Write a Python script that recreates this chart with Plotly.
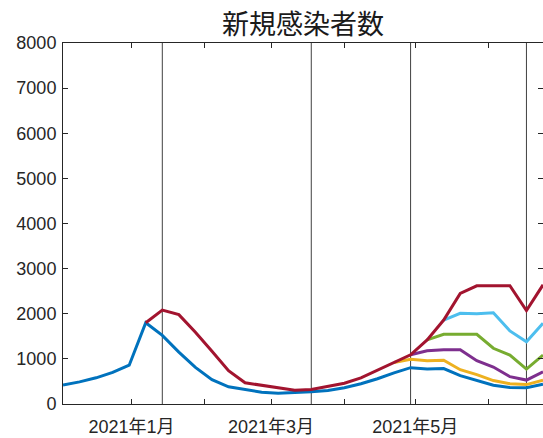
import plotly.graph_objects as go

# weekly dates (Thursdays)
dates = ["2020-12-03", "2020-12-10", "2020-12-17", "2020-12-24", "2020-12-31",
         "2021-01-07", "2021-01-14", "2021-01-21", "2021-01-28",
         "2021-02-04", "2021-02-11", "2021-02-18", "2021-02-25",
         "2021-03-04", "2021-03-11", "2021-03-18", "2021-03-25",
         "2021-04-01", "2021-04-08", "2021-04-15", "2021-04-22", "2021-04-29",
         "2021-05-06", "2021-05-13", "2021-05-20", "2021-05-27",
         "2021-06-03", "2021-06-10", "2021-06-17", "2021-06-24"]

actual = [420, 490, 580, 700, 860,
          1800, 1520, 1150, 810,
          540, 380, 320, 260,
          240, 250, 270, 300,
          360, 450, 560, 690, 805,
          775, 785, 630, 530,
          415, 365, 360, 440]

# scenario series (start index into dates, values)
red_start = 5
red_vals = [1800, 2080, 1980, 1590,
            1170, 740, 470, 410,
            360, 305, 320, 390,
            460, 580, 750, 920, 1090,
            1420, 1860, 2450, 2620,
            2620, 2620, 2070, 2640]

yellow_start = 20
yellow_vals = [920, 990, 960, 970, 760, 650, 520, 450, 430, 530]

purple_start = 21
purple_vals = [1090, 1180, 1200, 1200, 960, 820, 605, 530, 715]

green_start = 22
green_vals = [1420, 1545, 1545, 1545, 1235, 1085, 775, 1085]

lightblue_start = 23
lightblue_vals = [1860, 2010, 2000, 2020, 1620, 1380, 1790]

event_dates = ["2021-01-14", "2021-03-18", "2021-04-29", "2021-06-17"]

tick_dates = ["2021-01-01", "2021-02-01", "2021-03-01", "2021-04-01", "2021-05-01", "2021-06-01"]
tick_text = ["2021年1月", "", "2021年3月", "", "2021年5月", ""]

y_ticks = [0, 1000, 2000, 3000, 4000, 5000, 6000, 7000, 8000]

series = [
    (0, actual, "#0072BD"),
    (yellow_start, yellow_vals, "#EDB120"),
    (purple_start, purple_vals, "#7E2F8E"),
    (green_start, green_vals, "#77AC30"),
    (lightblue_start, lightblue_vals, "#4DBEEE"),
    (red_start, red_vals, "#A2142F"),
]

fig = go.Figure()
for start, vals, color in series:
    fig.add_trace(go.Scatter(x=dates[start:start + len(vals)], y=vals, mode="lines",
                             line=dict(color=color, width=3), showlegend=False,
                             hoverinfo="skip"))

# dummy trace for right-side tick axis
fig.add_trace(go.Scatter(x=[dates[0]], y=[None], yaxis="y2", showlegend=False,
                         hoverinfo="skip", mode="lines"))

for d in event_dates:
    fig.add_vline(x=d, line=dict(color="#404040", width=1), layer="below")

axis_color = "#262626"
font_fam = "Liberation Sans, Noto Sans CJK JP, sans-serif"

W, H = 543, 438

fig.update_layout(
    width=W, height=H,
    margin=dict(l=63, r=0, t=43, b=34, autoexpand=False),
    paper_bgcolor="white", plot_bgcolor="white",
    font=dict(family=font_fam, size=18, color=axis_color),
    title=dict(text="新規感染者数", x=0.5, xref="paper", xanchor="center",
               y=1 - 25 / H, yref="container", yanchor="middle",
               font=dict(family="Noto Sans CJK JP", size=27, color="#1a1a1a")),
    xaxis=dict(type="date", range=[dates[0], dates[-1]],
               tickmode="array", tickvals=tick_dates, ticktext=tick_text,
               ticks="inside", ticklen=5, tickcolor=axis_color,
               showline=True, linecolor=axis_color, linewidth=1, mirror="ticks",
               showgrid=False, zeroline=False, ticklabelstandoff=6,
               tickfont=dict(size=18, family=font_fam)),
    yaxis=dict(range=[0, 8000], tickmode="array", tickvals=y_ticks,
               ticks="inside", ticklen=5, tickcolor=axis_color,
               showline=True, linecolor=axis_color, linewidth=1, mirror=False,
               showgrid=False, zeroline=False, ticklabelstandoff=2,
               tickfont=dict(size=18, family=font_fam)),
    yaxis2=dict(range=[0, 8000], overlaying="y", side="right",
                tickmode="array", tickvals=y_ticks, ticks="inside", ticklen=5,
                tickcolor=axis_color, showticklabels=False, showline=False,
                showgrid=False, zeroline=False),
)

fig.write_html("out.html",
               config={"displayModeBar": False, "staticPlot": True},
               post_script="document.body.style.margin='0';document.body.style.overflow='hidden';")
